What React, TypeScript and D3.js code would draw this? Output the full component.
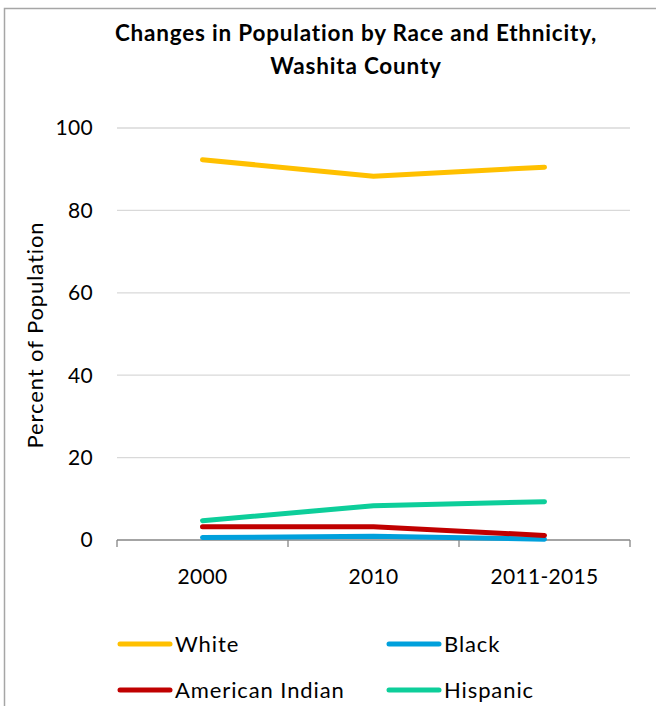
import React from "react";
import * as d3 from "d3";

const categories = ["2000", "2010", "2011-2015"];
const seriesNames = ["White", "Black", "American Indian", "Hispanic"];
const whiteValues = [92.3, 88.3, 90.5];
const blackValues = [0.6, 0.9, 0.2];
const americanIndianValues = [3.2, 3.2, 1.1];
const hispanicValues = [4.7, 8.3, 9.3];
const yTicks = [0, 20, 40, 60, 80, 100];

const colors: Record<string, string> = {
  White: "#FFC000",
  Black: "#00A0DC",
  "American Indian": "#C00000",
  Hispanic: "#0DCE9A",
};

const seriesData: Record<string, number[]> = {
  White: whiteValues,
  Black: blackValues,
  "American Indian": americanIndianValues,
  Hispanic: hispanicValues,
};

const W = 656;
const H = 706;
const left = 117;
const right = 630;
const top = 128;
const bottom = 540;
const font = "Lato, 'Open Sans', sans-serif";

export default function App() {
  const x = d3.scaleBand<string>().domain(categories).range([left, right]);
  const y = d3.scaleLinear().domain([0, 100]).range([bottom, top]);
  const line = d3
    .line<number>()
    .x((_, i) => (x(categories[i]) as number) + x.bandwidth() / 2)
    .y((d) => y(d));

  const tickXs = [...categories.map((c) => x(c) as number), right];

  const legendPos = [
    { name: seriesNames[0], lx: 118, ly: 644 },
    { name: seriesNames[1], lx: 387, ly: 644 },
    { name: seriesNames[2], lx: 118, ly: 690 },
    { name: seriesNames[3], lx: 387, ly: 690 },
  ];

  return (
    <svg
      width={W}
      height={H}
      style={{ position: "absolute", left: 0, top: 0, background: "#fff" }}
      fontFamily={font}
    >
      <rect x={4.5} y={8.5} width={W + 10} height={H + 10} fill="#fff" stroke="#a6a6a6" strokeWidth={1.5} />
      <text x={356} y={33} dy="0.35em" textAnchor="middle" fontWeight="bold" fontSize={22.5} letterSpacing={0.8} fill="#000">
        Changes in Population by Race and Ethnicity,
      </text>
      <text x={356} y={66} dy="0.35em" textAnchor="middle" fontWeight="bold" fontSize={22.5} letterSpacing={0.8} fill="#000">
        Washita County
      </text>

      {yTicks.map((t) => (
        <g key={t}>
          {t > 0 && (
            <line x1={left} x2={right} y1={y(t)} y2={y(t)} stroke="#d9d9d9" strokeWidth={1.3} />
          )}
          <text x={93} y={y(t)} dy="0.35em" textAnchor="end" fontSize={21} letterSpacing={0.3} fill="#000">
            {t}
          </text>
        </g>
      ))}

      <line x1={left} x2={right} y1={bottom} y2={bottom} stroke="#868686" strokeWidth={1.3} />
      {tickXs.map((tx, i) => (
        <line key={i} x1={tx} x2={tx} y1={bottom} y2={bottom + 7} stroke="#868686" strokeWidth={1.3} />
      ))}
      {categories.map((c) => (
        <text
          key={c}
          x={(x(c) as number) + x.bandwidth() / 2}
          y={577}
          dy="0.35em"
          textAnchor="middle"
          fontSize={21}
          letterSpacing={0.3}
          fill="#000"
        >
          {c}
        </text>
      ))}

      <text
        transform={`translate(35,335) rotate(-90)`}
        textAnchor="middle"
        dy="0.35em"
        fontSize={22}
        letterSpacing={0.9}
        fill="#000"
      >
        Percent of Population
      </text>

      {seriesNames.map((name) => (
        <path
          key={name}
          d={line(seriesData[name]) || ""}
          fill="none"
          stroke={colors[name]}
          strokeWidth={5}
          strokeLinecap="round"
          strokeLinejoin="round"
        />
      ))}

      {legendPos.map((l) => (
        <g key={l.name}>
          <line
            x1={l.lx + 2}
            x2={l.lx + 52}
            y1={l.ly}
            y2={l.ly}
            stroke={colors[l.name]}
            strokeWidth={5}
            strokeLinecap="round"
          />
          <text x={l.lx + 57} y={l.ly} dy="0.35em" fontSize={22} letterSpacing={0.9} fill="#000">
            {l.name}
          </text>
        </g>
      ))}
    </svg>
  );
}
